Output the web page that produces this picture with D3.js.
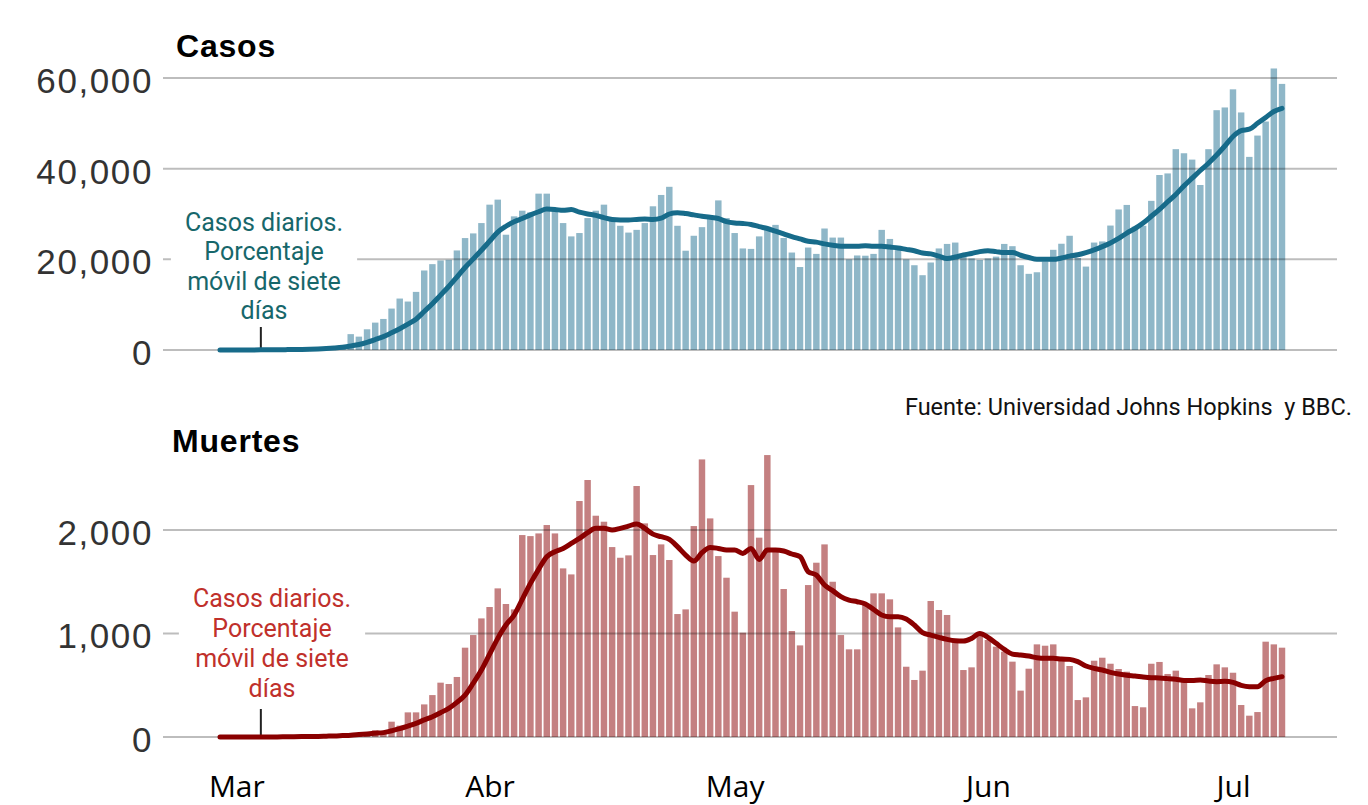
<!DOCTYPE html>
<meta charset="utf-8">
<style>
  body { margin: 0; background: #fff; }
  svg { display: block; }
  .titulo { font-family: "Liberation Sans", Arial, sans-serif; font-weight: bold; font-size: 32px; fill: #000; letter-spacing: 0.8px; }
  .eje-y text { font-family: "Liberation Sans", Arial, sans-serif; font-size: 35px; fill: #333; letter-spacing: 1.6px; }
  .eje-x text { font-family: "Open Sans", sans-serif; font-size: 30px; fill: #000; }
  .nota { font-family: Roboto, sans-serif; font-size: 25px; }
  .fuente { font-family: Roboto, sans-serif; font-size: 23.5px; fill: #111; white-space: pre; }
  .grid line { stroke: #000; stroke-opacity: 0.26; stroke-width: 2; }
</style>

<body>
  <script src="https://d3js.org/d3.v7.min.js"></script>
  <script>

    // primer dia de la serie (1 de marzo de 2020)
    var inicio = new Date(Date.UTC(2020, 2, 1));

    var casosDiarios = [0, 0, 5, 10, 20, 25, 40, 70, 100, 130, 200, 300, 400, 550, 700, 900,
      3500, 2950, 4570, 6040, 6850, 9140, 11350, 10690, 12820, 17540, 18940, 19750, 19900, 21960, 24690, 25720, 28000, 32060, 33170, 25430, 29480, 30730, 30360, 34490, 34490,
      31000, 28000, 25060, 25800, 29100, 30730, 32060, 28700, 27400, 25900, 26500, 28000, 31700, 34200, 36000, 27400, 21900, 25200, 27100, 29600,
      33000, 29100, 25800, 22400, 22300, 25060, 27100, 27600, 24700, 21500, 18300, 22600, 21200, 26800, 24800, 24800, 20000, 20850, 20800, 21200,
      26500, 24500, 22100, 20000, 18700, 16500, 19300, 22400, 23400, 23700, 20600, 20200, 19850, 20200, 20600, 23400, 22900, 18700, 16800, 17150,
      19530, 22100, 23440, 25200, 20300, 18400, 23700, 23950, 27450, 31000, 32000, 27200, 27400, 32900, 38600, 38950, 44300, 43400, 42000, 36400,
      44300, 52900, 53500, 57500, 52400, 42600, 47300, 50400, 62100, 58700];

    var casosMedia = [0, 0, 0, 10, 20, 30, 40, 60, 80, 100, 130, 170, 230, 320, 450, 620,
      880, 1200, 1700, 2300, 2950, 3800, 4700, 5700, 6800, 8500, 10200, 12100, 14000, 16100, 18200, 20100, 22000, 24000, 26000, 27300, 28300, 29000, 29800, 30500, 31100,
      31000, 30800, 31000, 30400, 30000, 29700, 29200, 28800, 28700, 28700, 28800, 28900, 28800, 29100, 30000, 30300, 30100, 29800, 29500, 29300,
      29000, 28300, 28000, 27900, 27700, 27200, 26800, 26200, 25600, 25000, 24500, 24000, 23800, 23400, 23100, 22900, 22900, 22900, 23000, 22900,
      22900, 22700, 22500, 22200, 21900, 21400, 21200, 20700, 20200, 20500, 20950, 21300, 21700, 21900, 21700, 21500, 21500, 20900, 20400, 20000,
      20000, 20000, 20300, 20700, 21000, 21500, 22100, 22800, 23600, 24600, 25800, 26800, 28000, 29500, 31000, 32700, 34300, 36200, 37900, 39600,
      41200, 43000, 45000, 47100, 48400, 48700, 50000, 51300, 52600, 53300];

    var muertesDiarias = [0, 0, 0, 0, 0, 0, 1, 2, 3, 2, 5, 4, 8, 10, 10, 15, 20, 25,
      40, 65, 55, 148, 110, 238, 238, 315, 405, 525, 512, 580, 863, 985, 1146, 1256, 1436, 1285, 1233, 1951, 1941, 1967, 2048, 1967, 1629, 1571, 2280, 2483, 2138, 2080, 1835, 1732, 1755, 2425, 2064, 1758,
      1861, 1710, 1188, 1233, 2038, 2682, 2112, 1748, 1539, 1211, 1008, 2434, 1926, 2724, 1806, 1430, 1024, 885, 1468, 1684, 1861, 1500, 985, 847, 847, 1275, 1388, 1388, 1330, 1059, 679, 551, 641, 1314, 1227, 1179, 921, 647, 673, 990,
      937, 873, 824, 728, 448, 660, 895, 882, 895, 770, 686, 357, 383, 737, 766, 708, 657, 631, 299, 287, 708, 725, 609, 641, 551, 277, 335, 599, 702, 673, 621, 309, 206, 241, 921, 895, 863];

    var muertesMedia = [0, 0, 0, 0, 0, 0, 1, 1, 2, 3, 4, 5, 6,
      8, 10, 14, 18, 24, 30, 36, 42, 60, 80, 105, 132,
      165, 196, 235, 277, 335, 405, 520, 647, 800, 953, 1082, 1178, 1330, 1484, 1620, 1742, 1790, 1822, 1870, 1919, 1974, 2016, 2016, 2000, 2016, 2038, 2058, 2016, 1960,
      1935, 1909, 1839, 1758, 1700, 1781, 1832, 1822, 1806, 1806, 1774, 1822, 1716, 1806, 1806, 1797, 1768, 1742, 1597, 1565, 1468, 1414, 1356, 1323, 1307, 1285, 1233, 1179, 1162, 1162, 1140, 1082, 1008, 985, 963, 943, 930, 927, 953, 1001,
      963, 905, 847, 801, 792, 782, 766, 760, 760, 753, 750, 728, 686, 663, 647, 625, 609, 596, 589, 580, 573, 570, 564, 557, 547, 547, 551, 541, 535, 538, 528, 499, 486, 486, 544, 567, 583];

    var casosTicks = [0, 20000, 40000, 60000];
    var muertesTicks = [0, 1000, 2000];
    var meses = ["Mar", "Abr", "May", "Jun", "Jul"];
    var notaLineas = ["Casos diarios.", "Porcentaje", "móvil de siete", "días"];
    var fuente = "Fuente: Universidad Johns Hopkins  y BBC.";

    var width = 1368, height = 805;

    var svg = d3.select("body").append("svg")
      .attr("width", width)
      .attr("height", height);

    var fechas = casosDiarios.map(function (d, i) { return d3.utcDay.offset(inicio, i); });

    // escala horizontal compartida, un dia ~8.17px
    var x = d3.scaleUtc()
      .domain([fechas[0], fechas[fechas.length - 1]])
      .range([220, 1282]);
    var paso = x(fechas[1]) - x(fechas[0]);
    var anchoBarra = paso * 0.79;

    var paneles = [
      {
        titulo: "Casos", tx: 176, ty: 57,
        diarios: casosDiarios, media: casosMedia, ticks: casosTicks,
        dominio: [0, 60000], rango: [350, 78],
        barra: "#8fb7c8", linea: "#176b8a", nota: "#17676b",
        notaX: 264, notaY: 231, notaPaso: 29.3, marcaAlto: 23
      },
      {
        titulo: "Muertes", tx: 172, ty: 452,
        diarios: muertesDiarias, media: muertesMedia, ticks: muertesTicks,
        dominio: [0, 2000], rango: [737, 530],
        barra: "#c48081", linea: "#8a0000", nota: "#c0302b",
        notaX: 272, notaY: 607, notaPaso: 30, marcaAlto: 28
      }
    ];

    paneles.forEach(function (p) {
      var y = d3.scaleLinear().domain(p.dominio).range(p.rango);
      var g = svg.append("g");

      // barras diarias
      g.append("g").selectAll("rect")
        .data(p.diarios)
        .enter().append("rect")
        .attr("x", function (d, i) { return x(fechas[i]) - anchoBarra / 2; })
        .attr("width", anchoBarra)
        .attr("y", function (d) { return y(d); })
        .attr("height", function (d) { return y(0) - y(d); })
        .attr("fill", p.barra);

      // lineas de la cuadricula (encima de las barras)
      g.append("g").attr("class", "grid")
        .selectAll("line")
        .data(p.ticks)
        .enter().append("line")
        .attr("x1", 163)
        .attr("x2", 1337)
        .attr("y1", function (d) { return y(d); })
        .attr("y2", function (d) { return y(d); });

      // etiquetas del eje y
      var ejeY = g.append("g")
        .attr("class", "eje-y")
        .attr("transform", "translate(153,0)")
        .call(d3.axisLeft(y).tickValues(p.ticks).tickSize(0).tickPadding(0).tickFormat(d3.format(",")));
      ejeY.select(".domain").remove();
      ejeY.selectAll("text").attr("dy", "0.41em");

      // titulo
      g.append("text")
        .attr("class", "titulo")
        .attr("x", p.tx)
        .attr("y", p.ty)
        .text(p.titulo);

      // nota con fondo blanco que tapa la cuadricula
      var fondo = g.append("rect").attr("fill", "#fff");
      var nota = g.append("text")
        .attr("class", "nota")
        .attr("text-anchor", "middle")
        .attr("fill", p.nota);
      notaLineas.forEach(function (t, k) {
        nota.append("tspan")
          .attr("x", p.notaX)
          .attr("y", p.notaY + k * p.notaPaso)
          .text(t);
      });
      var bb = nota.node().getBBox();
      fondo.attr("x", bb.x - 14).attr("y", bb.y - 2)
        .attr("width", bb.width + 28).attr("height", bb.height + 4);

      // marca vertical de la nota
      var xm = x(fechas[5]);
      g.append("line")
        .attr("x1", xm).attr("x2", xm)
        .attr("y1", y(0) - p.marcaAlto).attr("y2", y(0))
        .attr("stroke", "#222")
        .attr("stroke-width", 2);

      // media movil de siete dias
      g.append("path")
        .datum(p.media)
        .attr("fill", "none")
        .attr("stroke", p.linea)
        .attr("stroke-width", 5)
        .attr("stroke-linecap", "round")
        .attr("stroke-linejoin", "round")
        .attr("d", d3.line()
          .x(function (d, i) { return x(fechas[i]); })
          .y(function (d) { return y(d); })
          .curve(d3.curveMonotoneX));
    });

    // eje de meses, etiquetas desplazadas dos dias a la derecha del dia 1
    var desplaza = 2 * paso;
    var ejeX = svg.append("g")
      .attr("class", "eje-x")
      .attr("transform", "translate(0,797)")
      .call(d3.axisBottom(x)
        .tickValues(d3.utcMonth.range(inicio, d3.utcMonth.offset(inicio, meses.length)))
        .tickSize(0)
        .tickFormat(function (d, i) { return meses[i]; }));
    ejeX.select(".domain").remove();
    ejeX.selectAll("text").attr("y", 0).attr("dy", 0).attr("dx", desplaza);

    svg.append("text")
      .attr("class", "fuente")
      .attr("x", 1352)
      .attr("y", 415)
      .attr("text-anchor", "end")
      .text(fuente);

  </script>
</body>
